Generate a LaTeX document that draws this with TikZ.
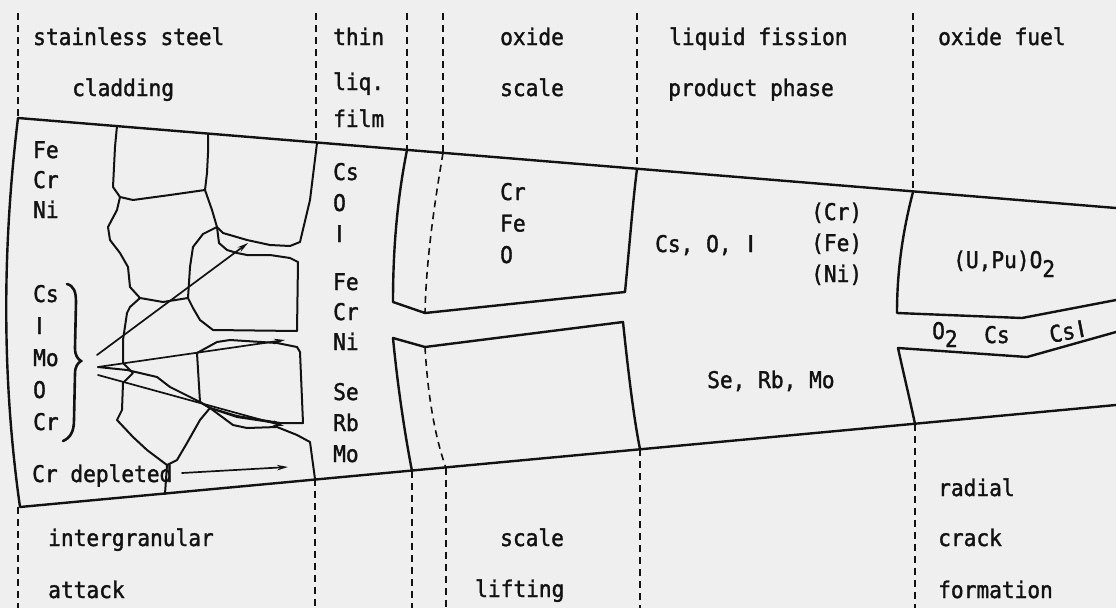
\documentclass[tikz,border=0pt]{standalone}
\usepackage{fontspec}
\newfontfamily\plotfont[FakeStretch=0.92,FakeBold=1.5]{DejaVu Sans Mono}
\newfontfamily\barfont[FakeBold=1.5]{DejaVu Sans}
% iodine written as a plain upright bar, kept on the monospaced grid
\newcommand\Iod{\makebox[12.7pt]{\barfont I}}
\usetikzlibrary{arrows.meta}
\definecolor{paper}{RGB}{239,239,239}
\definecolor{ink}{RGB}{18,18,18}

\begin{document}
\begin{tikzpicture}[x=1pt,y=-1pt,
  lbl/.style={font=\plotfont\fontsize{23}{28}\selectfont, inner sep=0pt, anchor=base west, text=ink},
  outline/.style={draw=ink, line width=2.4pt, line join=round, line cap=round},
  grain/.style={draw=ink, line width=2pt, line join=round, line cap=round},
  divider/.style={draw=ink, line width=1.6pt, dash pattern=on 7pt off 5pt},
  ptr/.style={draw=ink, line width=1.7pt, line cap=round, -{Stealth[length=11pt,width=5.5pt]}},
]
\fill[paper] (0,0) rectangle (1116,608);
\useasboundingbox (0,0) rectangle (1116,608);

% ---- column dividers (above and below the section) ----
\foreach \xa/\ya/\xb/\yb in {18/118/18/507, 316/143/315/479, 407/150/412/471,
                             443/153/446/468, 637/169/640/449, 913/192/915/424}{
  \draw[divider] (\xa,13) -- (\xa,\ya);
  \draw[divider] (\xb,\yb) -- (\xb,608);
}

% ---- outer contour of the tapered section ----
\coordinate (tl) at (18,118);
\coordinate (tr) at (1116,208);
\coordinate (bl) at (20,507);
\coordinate (br) at (1116,405);
\draw[outline] (tr) -- (tl) .. controls (2,250) and (2,380) .. (bl) -- (br);

% ---- cladding grains ----
\draw[grain] (117,126) -- (115,147) -- (113,187) -- (120,197);
\draw[grain] (120,197) -- (133,200) -- (170,195) -- (205,190);
\draw[grain] (208,134) -- (208,153) -- (207,173) -- (205,190);
\draw[grain] (205,190) -- (212,210) -- (217,227) -- (223,233) -- (247,240) -- (270,245)
             -- (290,246) -- (300,242) -- (310,200) -- (317,143);
\draw[grain] (120,197) -- (117,210) -- (108,227) -- (110,240) -- (120,253) -- (128,267)
             -- (130,287) -- (140,298);
\draw[grain] (140,298) -- (163,302) -- (188,298);
\draw[grain] (217,227) -- (203,234) -- (193,247) -- (190,267) -- (188,298) -- (193,308)
             -- (200,320) -- (213,330) -- (297,331) -- (298,262) -- (290,258) -- (270,255)
             -- (247,255) -- (237,253) -- (227,250) -- (219,243) -- cycle;
\draw[grain] (140,298) -- (130,307) -- (127,313) -- (123,340) -- (123,363) -- (133,373)
             -- (123,383) -- (122,410) -- (117,420) -- (133,437) -- (147,450) -- (167,465)
             -- (165,494);
\draw[grain] (197,353) -- (217,342) -- (230,340) -- (277,343) -- (297,347) -- (300,352)
             -- (303,423) -- (280,423) -- (237,416) -- (210,408) -- (200,402) -- cycle;
\draw[grain] (210,408) -- (233,425) -- (247,428) -- (277,427) -- (297,435) -- (310,442)
             -- (315,479);
\draw[grain] (210,408) -- (200,420) -- (187,443) -- (177,460) -- (167,465);

% ---- oxide scale: two blocks split by the liquid channel ----
\draw[outline] (407,150) .. controls (397,200) and (393,250) .. (393,302)
               -- (425,313) -- (625,292) .. controls (630,240) and (633,200) .. (637,169);
\draw[outline] (412,471) .. controls (404,430) and (397,380) .. (393,338)
               -- (425,347) -- (623,322) .. controls (628,370) and (634,420) .. (640,449);
% original metal surface inside the scale
\draw[divider] (443,153) .. controls (435,200) and (426,260) .. (425,313);
\draw[divider] (425,347) .. controls (428,400) and (436,440) .. (446,468);

% ---- oxide fuel with radial crack ----
\draw[outline] (913,192) .. controls (903,230) and (897,270) .. (897,313)
               -- (1022,318) -- (1116,300);
\draw[outline] (1116,332) -- (1027,357) -- (898,348)
               .. controls (905,380) and (910,400) .. (915,424);

% ---- headings ----
\node[lbl] (h1) at (33,45) {stainless steel};
\node[lbl] (h2) at (72,96) {cladding};
\node[lbl] (h3) at (333,45) {thin};
\node[lbl] (h4) at (333,90) {liq.};
\node[lbl] (h5) at (333,127) {film};
\node[lbl] (h6) at (500,45) {oxide};
\node[lbl] (h7) at (500,96) {scale};
\node[lbl] (h8) at (669,45) {liquid fission};
\node[lbl] (h9) at (668,96) {product phase};
\node[lbl] (h10) at (938,45) {oxide fuel};

% ---- footers ----
\node[lbl] (f1) at (48,546) {intergranular};
\node[lbl] (f2) at (48,598) {attack};
\node[lbl] (f3) at (500,546) {scale};
\node[lbl] (f4) at (475,597) {lifting};
\node[lbl] (f5) at (938,496) {radial};
\node[lbl] (f6) at (938,546) {crack};
\node[lbl] (f7) at (938,598) {formation};

% ---- element lists ----
\foreach \t [count=\i from 0] in {Fe,Cr,Ni}
  \node[lbl] (clad\i) at (33,{158+30*\i}) {\t};
\foreach \t [count=\i from 0] in {Cs,\Iod,Mo,O,Cr}
  \node[lbl] (attk\i) at (33,{302+32*\i}) {\t};
\foreach \t [count=\i from 0] in {Cs,O,\Iod}
  \node[lbl] (fa\i) at (333,{180+31*\i}) {\t};
\foreach \t [count=\i from 0] in {Fe,Cr,Ni}
  \node[lbl] (fb\i) at (333,{290+30*\i}) {\t};
\foreach \t [count=\i from 0] in {Se,Rb,Mo}
  \node[lbl] (fc\i) at (333,{400+31*\i}) {\t};
\foreach \t [count=\i from 0] in {Cr,Fe,O}
  \node[lbl] (ox\i) at (500,{200+31.5*\i}) {\t};
\foreach \t [count=\i from 0] in {(Cr),(Fe),(Ni)}
  \node[lbl] (lq\i) at (811,{220+31*\i}) {\t};
\node[lbl] (lqa) at (655,252) {Cs, O, \Iod};
\node[lbl] (lqb) at (707,388) {Se, Rb, Mo};
\node[lbl] (fuel) at (953,268) {(U,Pu)O\raisebox{-9pt}{2}};
\node[lbl] (ck1) at (932,339) {O\raisebox{-8pt}{2}};
\node[lbl] (ck2) at (984,343) {Cs};
\node[lbl, rotate=11] (ck3) at (1051,343) {Cs\Iod};
\node[lbl] (crd) at (32,482) {Cr depleted};

% ---- brace grouping the attacking species ----
\draw[ink, line width=2.6pt, line cap=round]
  (67,284) .. controls (74,286) and (76,292) .. (76,302) -- (75,348)
  .. controls (75,356) and (78,359) .. (81,361)
  .. controls (78,363) and (75,366) .. (75,374) -- (74,420)
  .. controls (74,432) and (70,438) .. (63,441);

% ---- penetration paths ----
\coordinate (s1) at (97,355);
\coordinate (s2) at (98,367);
\coordinate (s3) at (98,375);
\coordinate (e1) at (248,243);
\coordinate (e2) at (285,340);
\coordinate (e3) at (284,426);
\coordinate (d1) at (182,473);
\coordinate (d2) at (288,467);
\draw[ptr] (s1) -- (e1);
\draw[ptr] (s2) -- (e2);
\draw[ptr] (s3) -- (e3);
\draw[grain] (s2) -- (127,370) -- (157,377) -- (170,387) -- (200,402) -- (210,408)
             -- (237,417) -- (277,423);
\draw[ptr] (d1) -- (d2);
\end{tikzpicture}
\end{document}
